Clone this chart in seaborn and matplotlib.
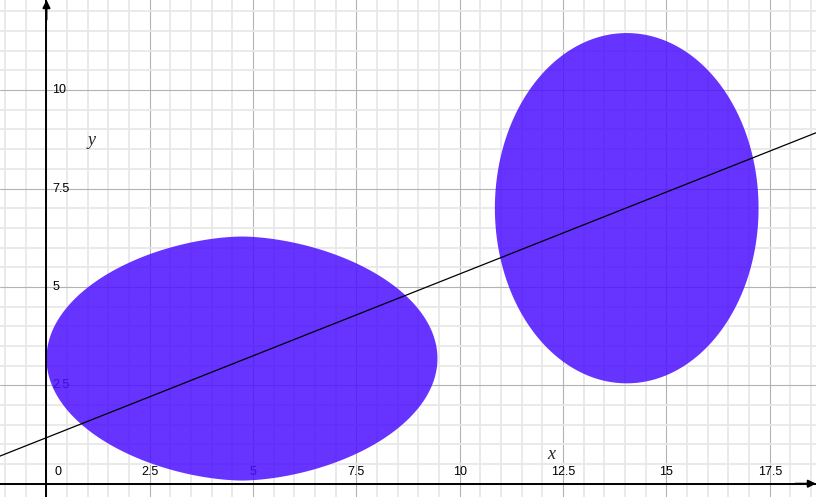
import numpy as np
import matplotlib
matplotlib.use("Agg")
import matplotlib.pyplot as plt
from matplotlib.ticker import MultipleLocator
import pandas as pd
import seaborn as sns

# ---------------- data ----------------
x_tick_values = [0, 2.5, 5, 7.5, 10, 12.5, 15, 17.5]
x_tick_labels = ["0", "2.5", "5", "7.5", "10", "12.5", "15", "17.5"]
y_tick_values = [2.5, 5, 7.5, 10]
y_tick_labels = ["2.5", "5", "7.5", "10"]

blob_center_x = [4.73, 14.04]
blob_center_y = [3.18, 7.00]
blob_radius_x = [4.73, 3.19]
blob_radius_y = [3.10, 4.45]
blob_exponent_x = [1.75, 2.0]
blob_exponent_y = [2.0, 2.0]

line_slope = 0.416
line_intercept = 1.17

x_view = [-1.125, 18.62]
y_view = [-0.338, 12.29]

# ---------------- style ----------------
sns.set_style("white")
plt.rcParams["font.family"] = ["Liberation Sans", "DejaVu Sans"]

fig = plt.figure(figsize=(8.16, 4.97), dpi=100)
ax = fig.add_axes([0, 0, 1, 1])
ax.set_xlim(*x_view)
ax.set_ylim(*y_view)

# grid
ax.xaxis.set_major_locator(MultipleLocator(2.5))
ax.yaxis.set_major_locator(MultipleLocator(2.5))
ax.xaxis.set_minor_locator(MultipleLocator(0.5))
ax.yaxis.set_minor_locator(MultipleLocator(0.5))
ax.set_axisbelow(True)
ax.grid(which="major", color="#b3b3b3", lw=0.8)
ax.grid(which="minor", color="#e8e8e8", lw=1.3)

# axes through origin
for side in ["top", "right"]:
    ax.spines[side].set_visible(False)
ax.spines["left"].set_position(("data", 0))
ax.spines["bottom"].set_position(("data", 0))
for side in ["left", "bottom"]:
    ax.spines[side].set_linewidth(1.4)
    ax.spines[side].set_color("black")
    ax.spines[side].set_zorder(3)
ax.tick_params(which="both", direction="inout", length=4.5, width=1.1,
               color="black", labelbottom=False, labelleft=False)

# tick labels (drawn beneath the filled regions)
for v, s in zip(x_tick_values, x_tick_labels):
    dx = 12 if v == 0 else 0
    ax.annotate(s, xy=(v, 0), xytext=(dx, 12), textcoords="offset pixels",
                ha="center", va="center", fontsize=9, color="black", zorder=0.8)
for v, s in zip(y_tick_values, y_tick_labels):
    ax.annotate(s, xy=(0, v), xytext=(6, 0), textcoords="offset pixels",
                ha="left", va="center", fontsize=9, color="black", zorder=0.8)

# filled regions
t = np.linspace(0, 2 * np.pi, 1441)
for cx, cy, rx, ry, px, py in zip(blob_center_x, blob_center_y, blob_radius_x,
                                  blob_radius_y, blob_exponent_x, blob_exponent_y):
    c, s = np.cos(t), np.sin(t)
    xs = cx + rx * np.sign(c) * np.abs(c) ** (2.0 / px)
    ys = cy + ry * np.sign(s) * np.abs(s) ** (2.0 / py)
    ax.fill(xs, ys, color="#4b0fff", alpha=0.85, lw=0, zorder=1)

# straight line
line_df = pd.DataFrame({"x": x_view,
                        "y": [line_slope * v + line_intercept for v in x_view]})
sns.lineplot(data=line_df, x="x", y="y", color="black", lw=0.9, ax=ax, zorder=4)
ax.set_xlabel("")
ax.set_ylabel("")

# arrow heads
ax.annotate("", xy=(0, y_view[1]), xytext=(0, y_view[1] - 0.5),
            arrowprops=dict(arrowstyle="-|>", color="black", lw=1.4,
                            mutation_scale=11, shrinkA=0, shrinkB=0),
            annotation_clip=False, zorder=5)
ax.annotate("", xy=(x_view[1], 0), xytext=(x_view[1] - 0.5, 0),
            arrowprops=dict(arrowstyle="-|>", color="black", lw=1.4,
                            mutation_scale=11, shrinkA=0, shrinkB=0),
            annotation_clip=False, zorder=5)

# axis names
ax.text(12.21, 0.73, "x", family=["Liberation Serif", "DejaVu Serif"],
        style="italic", fontsize=13, ha="center", va="center", zorder=0.8)
ax.text(1.10, 8.73, "y", family=["Liberation Serif", "DejaVu Serif"],
        style="italic", fontsize=13, ha="center", va="center", zorder=0.8)

fig.savefig("out.png", dpi=100)
